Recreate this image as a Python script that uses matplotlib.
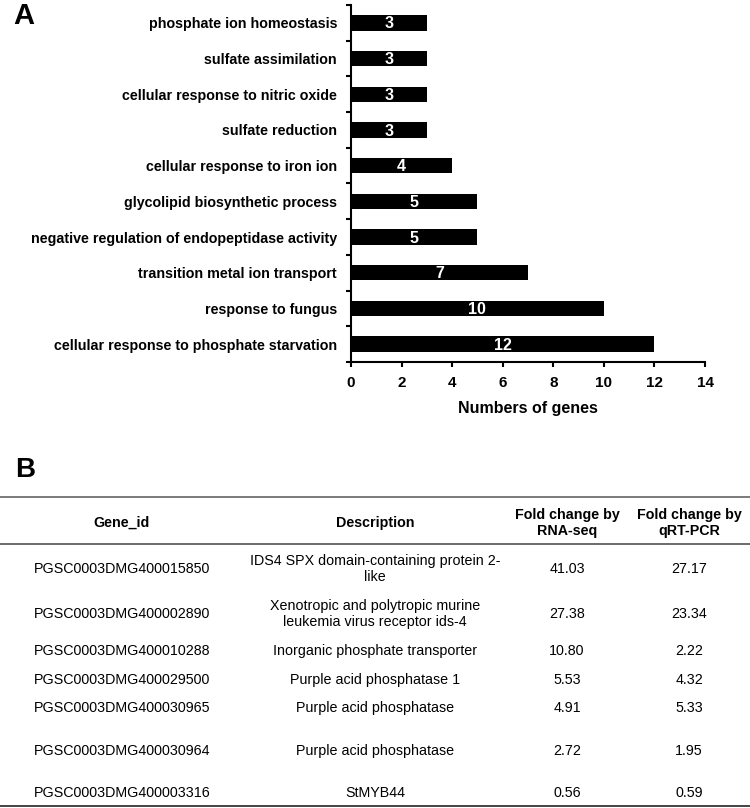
import numpy as np
import matplotlib
matplotlib.use("Agg")
import matplotlib.pyplot as plt
from matplotlib.ticker import FixedLocator

plt.rcParams['font.family'] = ['Liberation Sans', 'DejaVu Sans']

# ---------------- data ----------------
categories = [
    "phosphate ion homeostasis",
    "sulfate assimilation",
    "cellular response to nitric oxide",
    "sulfate reduction",
    "cellular response to iron ion",
    "glycolipid biosynthetic process",
    "negative regulation of endopeptidase activity",
    "transition metal ion transport",
    "response to fungus",
    "cellular response to phosphate starvation",
]
gene_counts = [3, 3, 3, 3, 4, 5, 5, 7, 10, 12]
x_ticks = [0, 2, 4, 6, 8, 10, 12, 14]
x_label = "Numbers of genes"

table_header = ["Gene_id", "Description", "Fold change by\nRNA-seq", "Fold change by\nqRT-PCR"]
gene_ids = [
    "PGSC0003DMG400015850",
    "PGSC0003DMG400002890",
    "PGSC0003DMG400010288",
    "PGSC0003DMG400029500",
    "PGSC0003DMG400030965",
    "PGSC0003DMG400030964",
    "PGSC0003DMG400003316",
]
descriptions = [
    "IDS4 SPX domain-containing protein 2-\nlike",
    "Xenotropic and polytropic murine\nleukemia virus receptor ids-4",
    "Inorganic phosphate transporter",
    "Purple acid phosphatase 1",
    "Purple acid phosphatase",
    "Purple acid phosphatase",
    "StMYB44",
]
fc_rnaseq = ["41.03", "27.38", "10.80", "5.53", "4.91", "2.72", "0.56"]
fc_qrtpcr = ["27.17", "23.34", "2.22", "4.32", "5.33", "1.95", "0.59"]

# ---------------- layout ----------------
W, H = 750, 808
fig = plt.figure(figsize=(W / 100, H / 100), dpi=100)

# Panel A
ax = fig.add_axes([351 / W, 1 - 362 / H, 354 / W, 357 / H])
ypos = np.arange(len(categories))
ax.barh(ypos, gene_counts, height=0.43, color="black")
for y, v in zip(ypos, gene_counts):
    ax.text(v / 2, y + 0.03, str(v), color="white", fontweight="bold", fontsize=11.5,
            ha="center", va="center")
ax.set_ylim(len(categories) - 0.5, -0.5)
ax.set_xlim(0, 14)
ax.set_xticks(x_ticks)
ax.set_xticklabels([str(t) for t in x_ticks], fontweight="bold", fontsize=11)
ax.set_yticks(ypos)
ax.set_yticklabels(categories, fontweight="bold", fontsize=10.3)
ax.yaxis.set_minor_locator(FixedLocator(np.arange(-0.5, len(categories), 1.0)))
ax.tick_params(axis="y", which="major", length=0, pad=10)
ax.tick_params(axis="y", which="minor", length=3.5, width=1.5, direction="out")
ax.tick_params(axis="x", which="major", length=3.5, width=1.5, direction="out", pad=6.5)
for s in ["top", "right"]:
    ax.spines[s].set_visible(False)
for s in ["left", "bottom"]:
    ax.spines[s].set_linewidth(1.5)
ax.set_xlabel(x_label, fontweight="bold", fontsize=11.5, labelpad=8)

fig.text(13 / W, 1 - 24 / H, "A", fontsize=21, fontweight="bold", va="baseline", ha="left")
fig.text(15 / W, 1 - 477 / H, "B", fontsize=20, fontweight="bold", va="baseline", ha="left")

# Panel B (table)
tab = fig.add_axes([0, 1 - 808 / H, 1, (808 - 490) / H])
tab.set_xlim(0, W)
tab.set_ylim(808, 490)
tab.axis("off")

col_x = [122, 375, 567, 689]
top_line, head_line, bottom_line = 497, 544, 806
header_y = 523
row_y = [569, 614, 651, 680, 708, 751, 793]

tab.plot([0, W], [top_line, top_line], color="#7a7a7a", lw=1.4, solid_capstyle="butt")
tab.plot([0, W], [head_line, head_line], color="#6a6a6a", lw=1.4, solid_capstyle="butt")
tab.plot([0, W], [bottom_line, bottom_line], color="#444444", lw=1.4, solid_capstyle="butt")

for cx, h in zip(col_x, table_header):
    tab.text(cx, header_y, h, ha="center", va="center", fontweight="bold",
             fontsize=10.3, linespacing=1.2)

for i in range(len(gene_ids)):
    cells = [gene_ids[i], descriptions[i], fc_rnaseq[i], fc_qrtpcr[i]]
    for cx, c in zip(col_x, cells):
        tab.text(cx, row_y[i], c, ha="center", va="center", fontsize=10.3,
                 linespacing=1.2)

fig.savefig("out.png", dpi=100)
